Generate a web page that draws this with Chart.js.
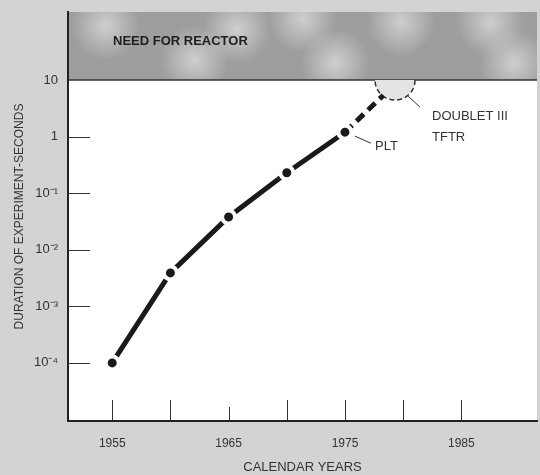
<!DOCTYPE html>
<html>
<head>
<meta charset="utf-8">
<script src="https://cdn.jsdelivr.net/npm/chart.js@4.4.0/dist/chart.umd.min.js"></script>
<style>
html, body { margin: 0; padding: 0; background: #d3d3d3; overflow: hidden; }
#wrap { width: 540px; height: 475px; }
</style>
</head>
<body>
<div id="wrap"><canvas id="myChart"></canvas></div>
<script>
// durations (seconds)
const years = [1955, 1960, 1965, 1970, 1975];
const durations = [0.0001, 0.0039, 0.038, 0.23, 1.2];
// dashed projection past PLT
const projYears = [1975, 1978.3];
const projDurations = [1.2, 5.4];
// axes
const yearLabels = [1955, 1965, 1975, 1985];
const yearMarks = [1955, 1960, 1965, 1970, 1975, 1980, 1985];
const decades = [0.0001, 0.001, 0.01, 0.1, 1, 10];
const decadeLabels = ['10⁻⁴', '10⁻³', '10⁻²', '10⁻¹', '1', '10'];
// annotations
const reactorLevel = 10;
const plt = { year: 1975, value: 1.2 };
const doublet = { year: 1979.3, value: 10 };

const FONT = '"Liberation Sans", Arial, sans-serif';

const paper = {
    id: 'paper',
    beforeDraw(chart) {
        const { ctx, chartArea: a, scales: { y } } = chart;
        ctx.save();
        ctx.fillStyle = '#d3d3d3';
        ctx.fillRect(0, 0, chart.width, chart.height);
        ctx.fillStyle = '#ffffff';
        ctx.fillRect(a.left, a.top, a.right - a.left, a.bottom - a.top);

        // shaded "need for reactor" band
        const yb = y.getPixelForValue(reactorLevel);
        ctx.beginPath();
        ctx.rect(a.left, a.top, a.right - a.left, yb - a.top);
        ctx.clip();
        ctx.fillStyle = '#9e9e9e';
        ctx.fillRect(a.left, a.top, a.right - a.left, yb - a.top);
        const blobs = [[0.27, 0.7], [0.5, 0.1], [0.57, 0.75], [0.71, 0.15], [0.9, 0.15], [0.95, 0.75], [0.08, 0.2], [0.36, 0.25]];
        blobs.forEach(([fx, fy]) => {
            const bx = a.left + fx * (a.right - a.left);
            const by = a.top + fy * (yb - a.top);
            const g = ctx.createRadialGradient(bx, by, 0, bx, by, 34);
            g.addColorStop(0, 'rgba(215,215,215,0.85)');
            g.addColorStop(1, 'rgba(215,215,215,0)');
            ctx.fillStyle = g;
            ctx.fillRect(bx - 40, by - 40, 80, 80);
        });
        ctx.restore();

        ctx.save();
        ctx.strokeStyle = '#333';
        ctx.lineWidth = 1.5;
        ctx.beginPath();
        ctx.moveTo(a.left, yb);
        ctx.lineTo(a.right, yb);
        ctx.stroke();
        ctx.fillStyle = '#1e1e1e';
        ctx.font = 'bold 13px ' + FONT;
        ctx.textBaseline = 'middle';
        ctx.fillText('NEED FOR REACTOR', a.left + 45, a.top + 29);
        ctx.restore();
    },
    beforeDatasetsDraw(chart) {
        const { ctx, chartArea: a, scales: { x, y } } = chart;
        ctx.save();
        // inner tick marks
        ctx.strokeStyle = '#333';
        ctx.lineWidth = 1;
        ctx.beginPath();
        yearMarks.forEach(v => {
            const px = Math.round(x.getPixelForValue(v)) + 0.5;
            ctx.moveTo(px, a.bottom);
            ctx.lineTo(px, a.bottom - (v === 1965 ? 14 : 21));
        });
        decades.filter(v => v < reactorLevel).forEach(v => {
            const py = Math.round(y.getPixelForValue(v)) + 0.5;
            ctx.moveTo(a.left, py);
            ctx.lineTo(a.left + 22, py);
        });
        ctx.stroke();

        // doublet III / TFTR circle
        const cx = x.getPixelForValue(doublet.year);
        const cy = y.getPixelForValue(doublet.value);
        ctx.beginPath();
        ctx.arc(cx, cy, 20, 0, Math.PI);
        ctx.fillStyle = '#e4e4e4';
        ctx.fill();
        ctx.setLineDash([5, 3]);
        ctx.lineWidth = 1.5;
        ctx.stroke();
        ctx.restore();
    },
    afterDatasetsDraw(chart) {
        const { ctx, scales: { x, y } } = chart;
        ctx.save();
        ctx.strokeStyle = '#333';
        ctx.lineWidth = 1;
        ctx.fillStyle = '#333';
        ctx.font = '13px ' + FONT;
        ctx.textBaseline = 'middle';

        const px = x.getPixelForValue(plt.year);
        const py = y.getPixelForValue(plt.value);
        ctx.beginPath();
        ctx.moveTo(px + 10, py + 4);
        ctx.lineTo(px + 26, py + 11);
        ctx.stroke();
        ctx.fillText('PLT', px + 30, py + 14);

        const cx = x.getPixelForValue(doublet.year);
        const cy = y.getPixelForValue(doublet.value);
        ctx.beginPath();
        ctx.moveTo(cx + 13, cy + 16);
        ctx.lineTo(cx + 25, cy + 27);
        ctx.stroke();
        ctx.fillText('DOUBLET III', cx + 37, cy + 36);
        ctx.fillText('TFTR', cx + 37, cy + 57);
        ctx.restore();
    }
};

const ctx1 = document.getElementById('myChart');
const myChart = new Chart(ctx1, {
    type: 'line',
    data: {
        datasets: [{
            data: years.map((yr, i) => ({ x: yr, y: durations[i] })),
            borderColor: '#1a1a1a',
            borderWidth: 5,
            pointRadius: 6.5,
            pointBackgroundColor: '#1a1a1a',
            pointBorderColor: '#ffffff',
            pointBorderWidth: 4,
            tension: 0
        }, {
            data: projYears.map((yr, i) => ({ x: yr, y: projDurations[i] })),
            borderColor: '#1a1a1a',
            borderWidth: 5,
            borderDash: [10, 6],
            pointRadius: 0
        }]
    },
    options: {
        responsive: true,
        maintainAspectRatio: false,
        animation: false,
        layout: { autoPadding: false, padding: { top: 12, right: 3, left: 0, bottom: 0 } },
        plugins: { legend: { display: false }, tooltip: { enabled: false } },
        scales: {
            x: {
                type: 'linear',
                min: 1951.2,
                max: 1991.5,
                afterBuildTicks: s => { s.ticks = yearLabels.map(v => ({ value: v })); },
                afterFit: s => { s.height = 54; s.paddingLeft = 0; s.paddingRight = 0; },
                grid: { display: false, drawTicks: false },
                border: { display: true, color: '#222', width: 2 },
                ticks: {
                    autoSkip: false,
                    maxRotation: 0,
                    padding: 15,
                    color: '#333',
                    font: { family: FONT, size: 12 },
                    callback: v => String(v)
                },
                title: {
                    display: true,
                    text: 'CALENDAR YEARS',
                    color: '#333',
                    font: { family: FONT, size: 13 },
                    padding: { top: 0, bottom: 0 }
                }
            },
            y: {
                type: 'logarithmic',
                min: 0.0000094,
                max: 160,
                afterBuildTicks: s => { s.ticks = decades.map(v => ({ value: v })); },
                afterFit: s => { s.width = 68; s.paddingTop = 0; s.paddingBottom = 0; },
                grid: { display: false, drawTicks: false },
                border: { display: true, color: '#222', width: 2 },
                ticks: {
                    autoSkip: false,
                    padding: 10,
                    color: '#333',
                    font: { family: FONT, size: 13 },
                    callback: (v, i) => decadeLabels[i]
                },
                title: {
                    display: true,
                    text: 'DURATION OF EXPERIMENT-SECONDS',
                    color: '#333',
                    font: { family: FONT, size: 12 },
                    padding: { top: 12, bottom: 0 }
                }
            }
        }
    },
    plugins: [paper]
});
</script>
</body>
</html>
